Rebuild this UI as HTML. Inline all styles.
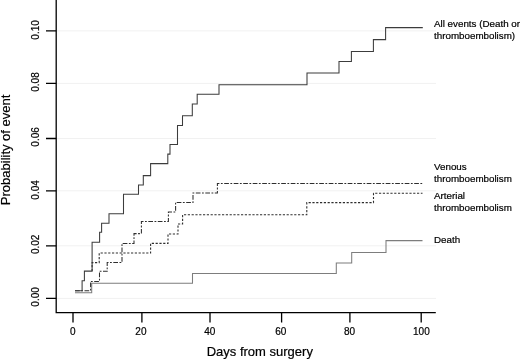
<!DOCTYPE html>
<html>
<head>
<meta charset="utf-8">
<title>Cumulative incidence</title>
<style>
  html, body { margin: 0; padding: 0; background: #ffffff; }
  body { width: 520px; height: 360px; overflow: hidden; }
  svg { display: block; will-change: transform; }
  text { font-family: "Liberation Sans", sans-serif; fill: #000; stroke: #000; stroke-width: 0.2px; }
  .tick { font-size: 10px; }
  .lab { font-size: 9.8px; }
  .axlab { font-size: 13px; }
</style>
</head>
<body>
<svg width="520" height="360" viewBox="0 0 520 360">
  <rect x="0" y="0" width="520" height="360" fill="#ffffff"/>

  <!-- faint horizontal gridlines -->
  <g stroke="#f1f1f1" stroke-width="1" fill="none">
    <line x1="57" y1="298.4" x2="436" y2="298.4"/>
    <line x1="57" y1="245.8" x2="436" y2="245.8"/>
    <line x1="57" y1="190.8" x2="436" y2="190.8"/>
    <line x1="57" y1="138.5" x2="436" y2="138.5"/>
    <line x1="57" y1="83.4" x2="436" y2="83.4"/>
    <line x1="57" y1="30.9" x2="436" y2="30.9"/>
  </g>

  <!-- axes -->
  <g stroke="#000" stroke-width="1.3" fill="none" stroke-linecap="butt">
    <path d="M56.2,0 V312.6 H435.8"/>
    <!-- y ticks -->
    <path d="M46,298.4 H56.2 M46,245.8 H56.2 M46,190.8 H56.2 M46,138.5 H56.2 M46,83.4 H56.2 M46,30.9 H56.2"/>
    <!-- x ticks -->
    <path d="M73.0,312.6 V322.4 M141.9,312.6 V322.4 M210.0,312.6 V322.4 M281.6,312.6 V322.4 M349.9,312.6 V322.4 M421.2,312.6 V322.4"/>
  </g>

  <!-- y tick labels -->
  <g class="tick" text-anchor="middle">
    <text transform="translate(39.0,296.9) rotate(-90)">0.00</text>
    <text transform="translate(39.0,244.3) rotate(-90)">0.02</text>
    <text transform="translate(39.0,189.9) rotate(-90)">0.04</text>
    <text transform="translate(39.0,136.9) rotate(-90)">0.06</text>
    <text transform="translate(39.0,82.0) rotate(-90)">0.08</text>
    <text transform="translate(39.0,29.9) rotate(-90)">0.10</text>
  </g>

  <!-- x tick labels -->
  <g class="tick" text-anchor="middle">
    <text x="72.8" y="335.1">0</text>
    <text x="140.9" y="335.1">20</text>
    <text x="209.7" y="335.1">40</text>
    <text x="280.8" y="335.1">60</text>
    <text x="349.6" y="335.1">80</text>
    <text x="421.4" y="335.1">100</text>
  </g>

  <!-- axis titles -->
  <text class="axlab" text-anchor="middle" transform="translate(9.8,149.9) rotate(-90) scale(1,0.92)">Probability of event</text>
  <text class="axlab" text-anchor="middle" x="259.8" y="356.3">Days from surgery</text>

  <!-- Death -->
  <path fill="none" stroke="#7d7d7d" stroke-width="1.05"
    d="M75,292.7 H91.7 V283.3 H192.5 V273.5 H336.3 V263 H351.7 V252.5 H386 V240.6 H422.5"/>

  <!-- Arterial thromboembolism (dotted/dashed) -->
  <path fill="none" stroke="#2e2e2e" stroke-width="1.1" stroke-dasharray="2.2 1.6"
    d="M92.1,271.1 V262.6 H99.2 V253 H150.6 V243.4 H168 V234 H178 V224 H182.6 V214.8 H306.8 V202.6 H373.5 V193.2 H422.5"/>

  <!-- Venous thromboembolism (dot-dash) -->
  <path fill="none" stroke="#2e2e2e" stroke-width="1.05" stroke-dasharray="4.7 1.5 1.8 1.5"
    d="M75,290.7 H90.6 V281.4 H99.5 V271.2 H107.2 V262.5 H122 V243.4 H134 V233.6 H141.4 V221.5 H168.4 V212 H175.6 V202.4 H193 V193 H217.4 V183.4 H422.5"/>

  <!-- All events -->
  <path fill="none" stroke="#3c3c3c" stroke-width="1.05"
    d="M75,290.7 H82.1 V280.7 H84.4 V271.1 H92.1 V242.2 H99.6 V232.3 H101.6 V223.3 H109 V213.7 H123.5 V194.2 H138.5 V185 H143.3 V175.6 H150.6 V163.6 H167.8 V154.1 H170 V144.4 H177.5 V125.4 H182.5 V115.7 H192.3 V104 H197.2 V94.3 H219 V84.7 H307 V73 H339 V61.4 H351.4 V51.4 H373.4 V39.6 H385.6 V27.6 H422.8"/>

  <!-- curve labels -->
  <g class="lab">
    <text x="434" y="27.4">All events (Death or</text>
    <text x="434" y="39.3">thromboembolism)</text>
    <text x="434" y="170">Venous</text>
    <text x="434" y="182.2">thromboembolism</text>
    <text x="434" y="199.3">Arterial</text>
    <text x="434" y="211.2">thromboembolism</text>
    <text x="434" y="243.4">Death</text>
  </g>
</svg>
</body>
</html>
